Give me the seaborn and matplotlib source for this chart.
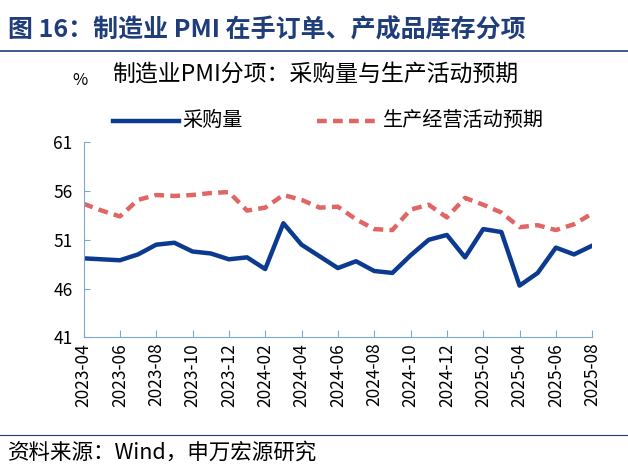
import matplotlib
matplotlib.use("Agg")
import matplotlib.pyplot as plt
import seaborn as sns
import pandas as pd
from matplotlib.lines import Line2D

plt.rcParams["font.family"] = ["Noto Sans CJK SC", "DejaVu Sans"]

months = pd.date_range("2023-04-01", "2025-08-01", freq="MS").strftime("%Y-%m").tolist()
purchase = [49.1, 49.0, 48.9, 49.5, 50.5, 50.7, 49.8, 49.6, 49.0, 49.2, 48.0, 52.7,
            50.5, 49.3, 48.1, 48.8, 47.8, 47.6, 49.4, 51.0, 51.5, 49.2, 52.1, 51.8,
            46.3, 47.6, 50.2, 49.5, 50.4]
expect = [54.7, 54.0, 53.4, 55.1, 55.6, 55.5, 55.6, 55.8, 55.9, 54.0, 54.3, 55.6,
          55.1, 54.3, 54.4, 53.1, 52.1, 52.0, 54.1, 54.6, 53.3, 55.3, 54.6, 53.8,
          52.3, 52.5, 52.0, 52.6, 53.7]
yticks = [41, 46, 51, 56, 61]

df = pd.DataFrame({"i": range(len(months)), "采购量": purchase, "生产经营活动预期": expect})

fig = plt.figure(figsize=(6.28, 4.73), dpi=100)
ax = fig.add_axes([0.133, 0.287, 0.81, 0.412])
blue = "#0B3A8F"; red = "#E06666"
sns.lineplot(data=df, x="i", y="采购量", ax=ax, color=blue, lw=3.2)
sns.lineplot(data=df, x="i", y="生产经营活动预期", ax=ax, color=red, lw=3.2, linestyle=(0, (2.2, 1.4)))
ax.set_xlim(0, len(months) - 1)
ax.set_ylim(41, 61)
ax.set_yticks(yticks)
ax.set_xticks(range(0, len(months), 2))
ax.set_xticklabels(months[::2], rotation=90, fontsize=12.5)
ax.tick_params(axis="y", labelsize=12.5, pad=8)
ax.tick_params(axis="x", length=5, color="#7FA7D9", direction="in", pad=4)
ax.set_xlabel(""); ax.set_ylabel("")
for s in ["top", "right"]:
    ax.spines[s].set_visible(False)
for s in ["left", "bottom"]:
    ax.spines[s].set_color("#7FA7D9")
ax.tick_params(axis="y", length=4, color="#7FA7D9", direction="in")

fig.text(0.012, 0.935, "图 16：制造业 PMI 在手订单、产成品库存分项", fontsize=18,
         fontweight="bold", color="#1F3D7A", va="center")
fig.add_artist(Line2D([0.0, 1.0], [0.893, 0.893], color="#1F3D7A", lw=1.2))
fig.text(0.115, 0.83, "%", fontsize=12, va="center")
fig.text(0.178, 0.843, "制造业PMI分项：采购量与生产活动预期", fontsize=16.5, va="center")
fig.add_artist(Line2D([0.18, 0.285], [0.745, 0.745], color=blue, lw=3.2))
fig.text(0.29, 0.745, "采购量", fontsize=14.5, va="center")
fig.add_artist(Line2D([0.505, 0.605], [0.745, 0.745], color=red, lw=3.2, linestyle=(0, (2.2, 1.4))))
fig.text(0.61, 0.745, "生产经营活动预期", fontsize=14.5, va="center")
fig.add_artist(Line2D([0.0, 1.0], [0.08, 0.08], color="#1F3D7A", lw=0.8))
fig.text(0.012, 0.043, "资料来源：Wind，申万宏源研究", fontsize=15.5, va="center")

fig.savefig("out.png", dpi=100)
